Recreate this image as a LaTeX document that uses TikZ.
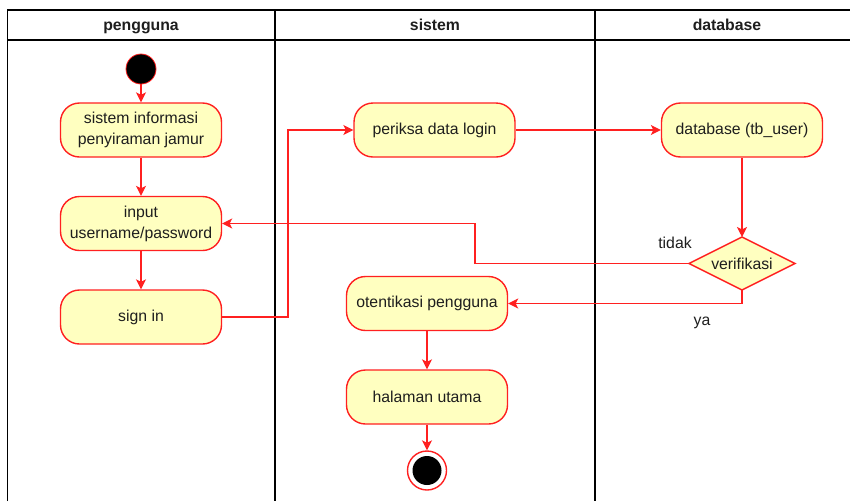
\documentclass[tikz,border=0pt]{standalone}
\usepackage{fontspec}
\setmainfont{Liberation Sans}
\usetikzlibrary{arrows.meta,calc}
\definecolor{actfill}{HTML}{FFFFC0}
\definecolor{actline}{HTML}{FF2020}
\definecolor{txt}{HTML}{1E1E1E}
\tikzset{
  lane/.style={draw=black, line width=1.1pt},
  lanehead/.style={font=\fontsize{15.8}{18}\selectfont\bfseries, text=txt, anchor=base, inner sep=0pt},
  activity/.style={draw=actline, fill=actfill, line width=1.4pt, rounded corners=19pt,
    minimum width=161pt, minimum height=54pt, inner sep=0pt, align=center,
    font=\fontsize{15.8}{21}\selectfont, text=txt},
  decision/.style={draw=actline, fill=actfill, line width=1.4pt},
  flow/.style={draw=actline, line width=1.25pt, -{Stealth[length=10pt,width=10pt,inset=2.5pt]}},
  guard/.style={font=\fontsize{15.8}{18}\selectfont, text=txt},
}
\begin{document}
\begin{tikzpicture}[x=1pt,y=-1pt]
\useasboundingbox (0,0) rectangle (850,501);
% swimlanes
\draw[lane] (7.5,501) -- (7.5,10) -- (850,10);
\draw[lane] (7.5,40) -- (850,40);
\draw[lane] (275,10) -- (275,501);
\draw[lane] (595,10) -- (595,501);
\node[lanehead] (h1) at (141,30.5) {pengguna};
\node[lanehead] (h2) at (435,30.5) {sistem};
\node[lanehead] (h3) at (727,30.5) {database};

% start and end
\node[circle, fill=black, draw=actline, line width=0.8pt, minimum size=30pt, inner sep=0pt] (start) at (141,69) {};
\node[circle, fill=white, draw=actline, line width=1.4pt, minimum size=39pt, inner sep=0pt] (end) at (427,470.5) {};
\node[circle, fill=black, minimum size=29pt, inner sep=0pt] (endcore) at (end.center) {};

% activities
\node[activity] (sim) at (141,130) {sistem informasi\\penyiraman jamur};
\node[activity] (inp) at (141,223.5) {input\\username/password};
\node[activity] (sgn) at (141,317) {sign in};
\node[activity] (prk) at (434.5,130) {periksa data login};
\node[activity] (dbu) at (742,130) {database (tb\_user)};
\node[activity] (oto) at (427,303.5) {otentikasi pengguna};
\node[activity] (hal) at (427,397) {halaman utama};

% decision
\draw[decision] (742,237) -- (795,263.5) -- (742,290) -- (689,263.5) -- cycle;
\coordinate (vN) at (742,237);
\coordinate (vS) at (742,290);
\coordinate (vW) at (689,263.5);
\node[font=\fontsize{15.8}{18}\selectfont, text=txt] (ver) at (742,263.5) {verifikasi};

% guards
\node[guard] (tdk) at (675,243) {tidak};
\node[guard] (ya) at (702,323) {ya};

% flows
\draw[flow] (start) -- (sim);
\draw[flow] (sim) -- (inp);
\draw[flow] (inp) -- (sgn);
\draw[flow] (sgn.east) -- (288,317) |- (prk.west);
\draw[flow] (prk) -- (dbu);
\draw[flow] (dbu) -- (vN);
\draw[flow] (vW) -- (475,263.5) |- (inp.east);
\draw[flow] (vS) -- (742,303.5) -- (oto.east);
\draw[flow] (oto) -- (hal);
\draw[flow] (hal) -- (end);
\end{tikzpicture}
\end{document}
